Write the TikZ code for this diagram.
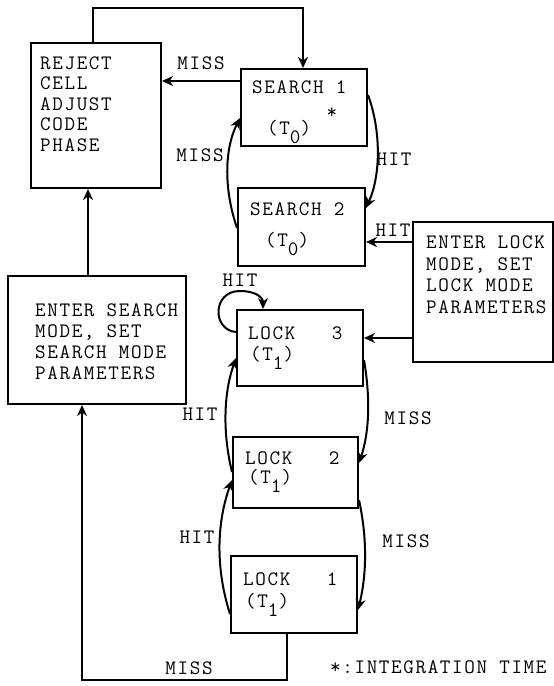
\documentclass[tikz,border=0pt]{standalone}
\usepackage{fontspec}
\newfontfamily\tw{Latin Modern Mono}[LetterSpace=8]
\usetikzlibrary{arrows.meta}
\tikzset{
  box/.style={draw, line width=2pt, inner sep=0pt},
  txt/.style={font=\tw\fontsize{20.5}{20.5}\selectfont, inner sep=0pt, anchor=base west, align=left},
  lbl/.style={font=\tw\fontsize{20.5}{20.5}\selectfont, inner sep=0pt},
  arr/.style={line width=2pt, -{Stealth[length=11pt,width=10pt,inset=3.5pt]}},
}
\newcommand{\sbz}[1]{\raisebox{-9pt}{#1}}
\begin{document}
\begin{tikzpicture}[x=1pt,y=-1pt]
\useasboundingbox (0,0) rectangle (554,686);
% boxes
\node[box, minimum width=130pt, minimum height=145pt, anchor=north west] (rej) at (30,42) {};
\node[box, minimum width=126pt, minimum height=77pt, anchor=north west] (s1) at (240,68) {};
\node[box, minimum width=127pt, minimum height=78pt, anchor=north west] (s2) at (237,187) {};
\node[box, minimum width=140pt, minimum height=140pt, anchor=north west] (elock) at (412,221) {};
\node[box, minimum width=126pt, minimum height=76pt, anchor=north west] (l3) at (236,309) {};
\node[box, minimum width=125pt, minimum height=71pt, anchor=north west] (l2) at (232,436) {};
\node[box, minimum width=126pt, minimum height=77pt, anchor=north west] (l1) at (230,555) {};
\node[box, minimum width=178pt, minimum height=128pt, anchor=north west] (es) at (7,275) {};
% texts (base anchor = last line's baseline)
\node[txt] (rejT) at (40,151) {REJECT\\CELL\\ADJUST\\CODE\\PHASE};
\node[txt] (s1T) at (252,93) {SEARCH 1};
\node[txt] (s1U) at (267,134) {(T\sbz{0})};
\node[lbl] (star) at (332,113) {*};
\node[txt] (s2T) at (250,215) {SEARCH 2};
\node[txt] (s2U) at (265,246) {(T\sbz{0})};
\node[txt, font=\tw\fontsize{20.5}{21.5}\selectfont] (elT) at (426,313) {ENTER LOCK\\MODE, SET\\LOCK MODE\\PARAMETERS};
\node[txt, font=\tw\fontsize{20.5}{21}\selectfont] (esT) at (35,379) {ENTER SEARCH\\MODE, SET\\SEARCH MODE\\PARAMETERS};
\node[txt] (l3T) at (248,339) {LOCK\ \ \ 3};
\node[txt] (l3U) at (250,360) {(T\sbz{1})};
\node[txt] (l2T) at (245,464) {LOCK\ \ \ 2};
\node[txt] (l2U) at (248,483) {(T\sbz{1})};
\node[txt] (l1T) at (243,585) {LOCK\ \ \ 1};
\node[txt] (l1U) at (245,607) {(T\sbz{1})};
\node[txt] (note) at (330,673) {*:INTEGRATION TIME};
% labels
\node[lbl] (m1) at (201,63) {MISS};
\node[lbl] (m2) at (200,155) {MISS};
\node[lbl] (h1) at (394,159) {HIT};
\node[lbl] (h2) at (393,230) {HIT};
\node[lbl] (h3) at (240,280) {HIT};
\node[lbl] (h4) at (200,414) {HIT};
\node[lbl] (m3) at (408,418) {MISS};
\node[lbl] (h5) at (197,537) {HIT};
\node[lbl] (m4) at (406,541) {MISS};
\node[lbl] (m5) at (189,668) {MISS};
% helper coordinates
\coordinate (tl) at (93,8);
\coordinate (tr) at (303,8);
\coordinate (ym1) at (0,81);
\coordinate (yh2) at (0,242);
\coordinate (yl3) at (0,338);
\coordinate (br) at (287,680);
\coordinate (bl) at (82,680);
\coordinate (xu) at (88,0);
% connectors
\draw[arr] (rej.north -| tl) -- (tl) -- (tr) -- (s1.north -| tr);
\draw[arr] (s1.west |- ym1) -- (rej.east |- ym1);
\draw[arr] (s1.east |- 0,95) .. controls (381,130) and (381,175) .. (s2.east |- 0,208);
\draw[arr] (s2.west |- 0,228) .. controls (224,190) and (224,150) .. (s1.west |- 0,118);
\draw[arr] (elock.west |- yh2) -- (s2.east |- yh2);
\draw[arr] (elock.west |- yl3) -- (l3.east |- yl3);
\draw[arr] (l3.west |- 0,332) .. controls (212,330) and (212,291) .. (240,291) .. controls (255,291) and (263,297) .. (l3.north -| 263,0);
\draw[arr] (l2.west |- 0,472) .. controls (223,435) and (223,395) .. (l3.west |- 0,358);
\draw[arr] (l1.west |- 0,614) .. controls (216,570) and (216,525) .. (l2.west |- 0,480);
\draw[arr] (l3.east |- 0,360) .. controls (370,395) and (370,430) .. (l2.east |- 0,463);
\draw[arr] (l2.east |- 0,500) .. controls (367,537) and (367,573) .. (l1.east |- 0,610);
\draw[arr] (l1.south -| br) -- (br) -- (bl) -- (es.south -| bl);
\draw[arr] (es.north -| xu) -- (rej.south -| xu);
\end{tikzpicture}
\end{document}
